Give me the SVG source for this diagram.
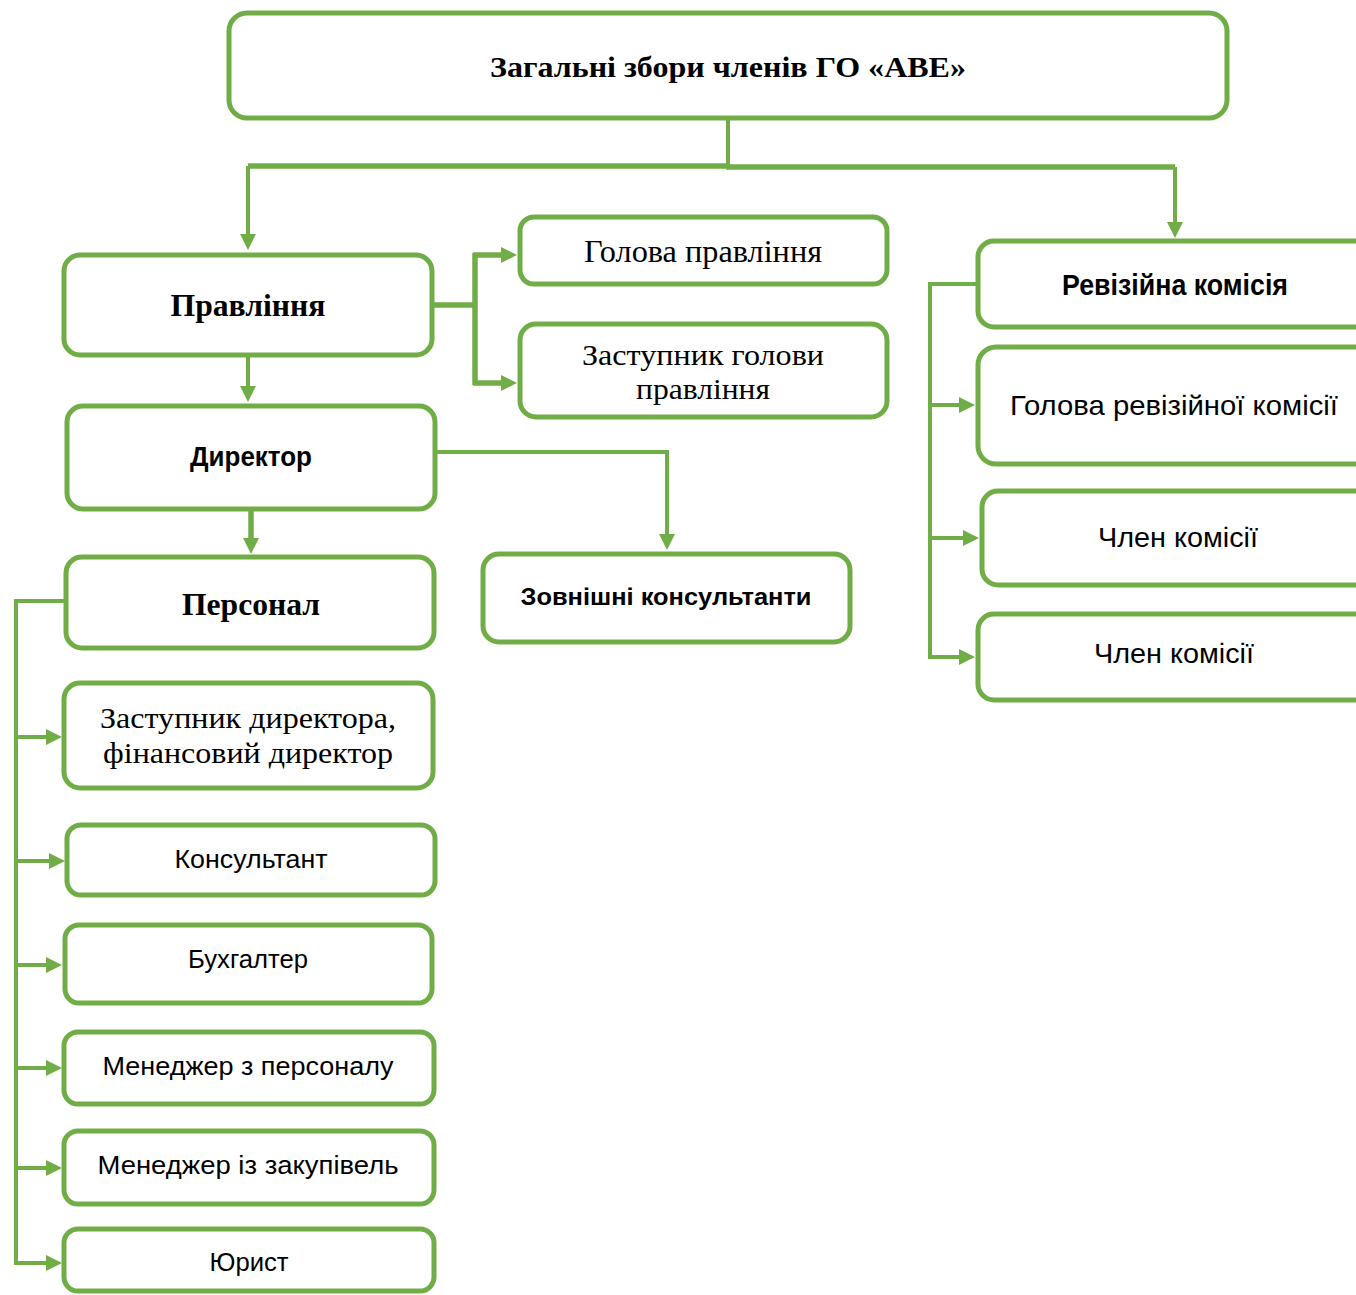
<svg xmlns="http://www.w3.org/2000/svg" width="1356" height="1295" viewBox="0 0 1356 1295">
<style>
.box{fill:#fff;stroke:#70AD47;stroke-width:5}
.ln{fill:none;stroke:#70AD47;stroke-width:4}
.lt{fill:none;stroke:#70AD47;stroke-width:5.5}
text{fill:#000;text-anchor:middle}
.sb{font-family:"Liberation Serif","Times New Roman",serif;font-weight:bold}
.sr{font-family:"Liberation Serif","Times New Roman",serif}
.nb{font-family:"Liberation Sans",Arial,sans-serif;font-weight:bold}
.nr{font-family:"Liberation Sans",Arial,sans-serif}
</style>
<defs>
<marker id="ah" viewBox="0 0 16 16" refX="6" refY="8" markerWidth="16" markerHeight="16" markerUnits="userSpaceOnUse" orient="auto">
<path d="M0,0 L16,8 L0,16 z" fill="#70AD47"/>
</marker>
</defs>
<rect width="1356" height="1295" fill="#fff"/>
<g id="connectors">
<path class="ln" d="M728,118 V166"/>
<path class="lt" d="M730,166 H248"/>
<path class="ln" d="M248,166 V240" marker-end="url(#ah)"/>
<path class="lt" d="M726,167 H1175"/>
<path class="ln" d="M1175,167 V228" marker-end="url(#ah)"/>
<path class="lt" d="M432,305 H475"/>
<path class="lt" d="M475,253 V385"/>
<path class="lt" d="M473,255 H507" marker-end="url(#ah)"/>
<path class="lt" d="M473,383 H507" marker-end="url(#ah)"/>
<path class="ln" d="M248,357 V392" marker-end="url(#ah)"/>
<path class="lt" d="M251,510 V544" marker-end="url(#ah)"/>
<path class="ln" d="M435,452 H667 V540" marker-end="url(#ah)"/>
<path class="ln" d="M66,601 H16 V1263"/>
<path class="ln" d="M16,737 H52" marker-end="url(#ah)"/>
<path class="ln" d="M16,861 H55" marker-end="url(#ah)"/>
<path class="ln" d="M16,965 H52" marker-end="url(#ah)"/>
<path class="ln" d="M16,1068 H52" marker-end="url(#ah)"/>
<path class="ln" d="M16,1168 H52" marker-end="url(#ah)"/>
<path class="ln" d="M14,1263 H52" marker-end="url(#ah)"/>
<path class="ln" d="M978,284 H930 V657"/>
<path class="ln" d="M930,405 H965" marker-end="url(#ah)"/>
<path class="ln" d="M930,538 H969" marker-end="url(#ah)"/>
<path class="ln" d="M928,657 H965" marker-end="url(#ah)"/>
</g>
<g id="n-zbory"><rect class="box" x="229" y="13" width="998" height="105" rx="18"/><text class="sb" x="728" y="77" font-size="30" textLength="476" lengthAdjust="spacingAndGlyphs">Загальні збори членів ГО «АВЕ»</text></g>
<g id="n-pravlinnia"><rect class="box" x="64" y="255" width="368" height="100" rx="16"/><text class="sb" x="248" y="316" font-size="31" textLength="155" lengthAdjust="spacingAndGlyphs">Правління</text></g>
<g id="n-holova"><rect class="box" x="520" y="217" width="367" height="67" rx="14"/><text class="sr" x="703" y="262" font-size="32" textLength="238" lengthAdjust="spacingAndGlyphs">Голова правління</text></g>
<g id="n-zastupnyk-holovy"><rect class="box" x="520" y="324" width="367" height="93" rx="16"/><text class="sr" x="703" y="365" font-size="29" textLength="242" lengthAdjust="spacingAndGlyphs">Заступник голови</text><text class="sr" x="703" y="399" font-size="29" textLength="134" lengthAdjust="spacingAndGlyphs">правління</text></g>
<g id="n-dyrektor"><rect class="box" x="67" y="406" width="368" height="103" rx="16"/><text class="nb" x="251" y="466" font-size="27" textLength="122" lengthAdjust="spacingAndGlyphs">Директор</text></g>
<g id="n-personal"><rect class="box" x="66" y="557" width="368" height="91" rx="16"/><text class="sb" x="251" y="615" font-size="31" textLength="138" lengthAdjust="spacingAndGlyphs">Персонал</text></g>
<g id="n-zovnishni"><rect class="box" x="483" y="554" width="367" height="88" rx="16"/><text class="nb" x="666" y="605" font-size="24" textLength="291" lengthAdjust="spacingAndGlyphs">Зовнішні консультанти</text></g>
<g id="n-revizijna"><rect class="box" x="978" y="241" width="420" height="86" rx="16"/><text class="nb" x="1175" y="295" font-size="30" textLength="226" lengthAdjust="spacingAndGlyphs">Ревізійна комісія</text></g>
<g id="n-holova-rev"><rect class="box" x="978" y="347" width="420" height="117" rx="18"/><text class="nr" x="1174" y="415" font-size="28" textLength="328" lengthAdjust="spacingAndGlyphs">Голова ревізійної комісії</text></g>
<g id="n-chlen1"><rect class="box" x="982" y="491" width="416" height="94" rx="16"/><text class="nr" x="1178" y="547" font-size="27" textLength="160" lengthAdjust="spacingAndGlyphs">Член комісії</text></g>
<g id="n-chlen2"><rect class="box" x="978" y="614" width="420" height="86" rx="16"/><text class="nr" x="1174" y="663" font-size="27" textLength="160" lengthAdjust="spacingAndGlyphs">Член комісії</text></g>
<g id="n-zast-dyr"><rect class="box" x="64" y="683" width="369" height="105" rx="16"/><text class="sr" x="248" y="728" font-size="30" textLength="296" lengthAdjust="spacingAndGlyphs">Заступник директора,</text><text class="sr" x="248" y="763" font-size="30" textLength="290" lengthAdjust="spacingAndGlyphs">фінансовий директор</text></g>
<g id="n-konsultant"><rect class="box" x="67" y="825" width="368" height="70" rx="14"/><text class="nr" x="251" y="868" font-size="25" textLength="153" lengthAdjust="spacingAndGlyphs">Консультант</text></g>
<g id="n-bukhhalter"><rect class="box" x="65" y="925" width="367" height="78" rx="14"/><text class="nr" x="248" y="968" font-size="25" textLength="120" lengthAdjust="spacingAndGlyphs">Бухгалтер</text></g>
<g id="n-menedzher-personal"><rect class="box" x="64" y="1032" width="370" height="72" rx="14"/><text class="nr" x="248" y="1075" font-size="25" textLength="291" lengthAdjust="spacingAndGlyphs">Менеджер з персоналу</text></g>
<g id="n-menedzher-zakupivel"><rect class="box" x="64" y="1131" width="370" height="73" rx="14"/><text class="nr" x="248" y="1174" font-size="25" textLength="301" lengthAdjust="spacingAndGlyphs">Менеджер із закупівель</text></g>
<g id="n-iuryst"><rect class="box" x="64" y="1229" width="370" height="62" rx="14"/><text class="nr" x="249" y="1271" font-size="25" textLength="79" lengthAdjust="spacingAndGlyphs">Юрист</text></g>
</svg>
